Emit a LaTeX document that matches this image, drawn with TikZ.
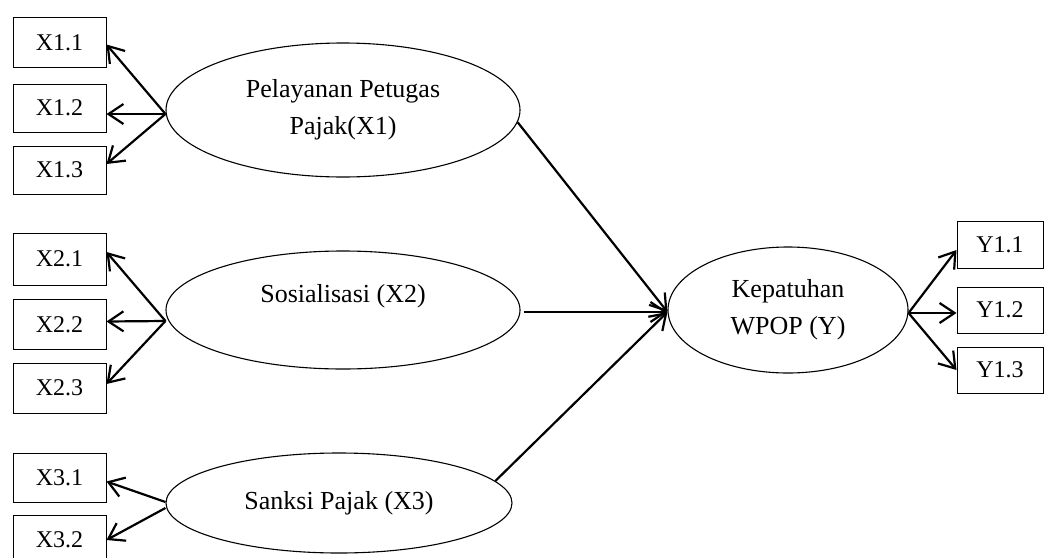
\documentclass[tikz,border=0pt]{standalone}
\usepackage{fontspec}
\setmainfont{Liberation Serif}
\usetikzlibrary{shapes.geometric,arrows.meta}
\tikzset{
  ell/.style={draw, line width=1.1pt, ellipse, inner sep=0pt, align=center,
     font=\fontsize{26}{37}\selectfont},
  ind/.style={draw, line width=1pt, rectangle, inner sep=0pt, minimum width=93pt,
     font=\fontsize{24}{28}\selectfont},
  conn/.style={line width=2.2pt, -{Straight Barb[length=15pt,width=20pt,line width=2.2pt]}},
  path/.style={line width=2.2pt}
}
\begin{document}
\begin{tikzpicture}[x=1pt,y=-1pt]
\useasboundingbox (0,0) rectangle (1044,557);
% latent variables
\node[ell, minimum width=354pt, minimum height=134pt] (x1) at (343,110) {Pelayanan Petugas\\Pajak(X1)};
\node[ell, minimum width=354pt, minimum height=118pt,
      label={[font=\fontsize{26}{37}\selectfont, yshift=14pt]center:Sosialisasi (X2)}] (x2) at (343,310) {};
\node[ell, minimum width=346pt, minimum height=100pt] (x3) at (339,503) {Sanksi Pajak (X3)};
\node[ell, minimum width=240pt, minimum height=126pt] (kp) at (788,310) {Kepatuhan\\WPOP (Y)};
% indicators
\node[ind, minimum height=50pt] (x11) at (59.5,42.5) {X1.1};
\node[ind, minimum height=48pt] (x12) at (59.5,108) {X1.2};
\node[ind, minimum height=48pt] (x13) at (59.5,170) {X1.3};
\node[ind, minimum height=52pt] (x21) at (59.5,259) {X2.1};
\node[ind, minimum height=50pt] (x22) at (59.5,324.5) {X2.2};
\node[ind, minimum height=50pt] (x23) at (59.5,388) {X2.3};
\node[ind, minimum height=49pt] (x31) at (59.5,477.5) {X3.1};
\node[ind, minimum height=50pt] (x32) at (59.5,540) {X3.2};
\node[ind, minimum width=86pt, minimum height=47pt] (y11) at (1000,244.5) {Y1.1};
\node[ind, minimum width=86pt, minimum height=46pt] (y12) at (1000,310) {Y1.2};
\node[ind, minimum width=86pt, minimum height=46pt] (y13) at (1000,370) {Y1.3};
% loadings X1
\draw[conn] ([yshift=-4pt]x1.west) -- ([yshift=-2pt]x11.east);
\draw[conn] ([yshift=-4pt]x1.west) -- ([yshift=-6pt]x12.east);
\draw[conn] ([yshift=-4pt]x1.west) -- ([yshift=6pt]x13.east);
% loadings X2
\draw[conn] ([yshift=-11pt]x2.west) -- ([yshift=7pt]x21.east);
\draw[conn] ([yshift=-11pt]x2.west) -- ([yshift=3pt]x22.east);
\draw[conn] ([yshift=-11pt]x2.west) -- ([yshift=4pt]x23.east);
% loadings X3
\draw[conn] ([yshift=1pt]x3.west) -- ([yshift=-4pt]x31.east);
\draw[conn] ([yshift=-5pt]x3.west) -- (x32.east);
% loadings Y
\draw[conn] ([yshift=-3pt]kp.east) -- ([yshift=-5.5pt]y11.east -| y11.west);
\draw[conn] ([yshift=-3pt]kp.east) -- ([yshift=-3pt]y12.west);
\draw[conn] ([yshift=-3pt]kp.east) -- (y13.west);
% structural paths
\draw[conn] (x1.-4) -- ([yshift=-2pt]kp.west);
\draw[conn] ([xshift=3pt,yshift=-2pt]x2.east) -- ([yshift=-2pt]kp.west);
\draw[conn] (x3.8) -- ([yshift=-2pt]kp.west);
\end{tikzpicture}
\end{document}
